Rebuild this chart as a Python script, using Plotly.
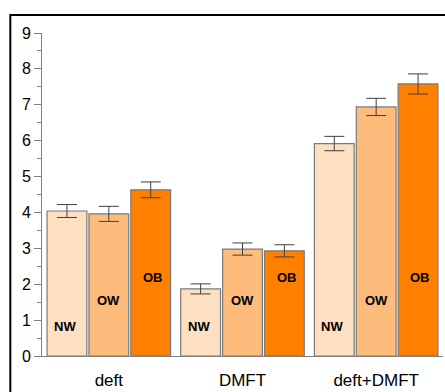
import plotly.graph_objects as go

categories = ["deft", "DMFT", "deft+DMFT"]
groups = ["NW", "OW", "OB"]
values = {
    "NW": [4.04, 1.87, 5.92],
    "OW": [3.96, 2.98, 6.94],
    "OB": [4.63, 2.93, 7.58],
}
errors = {
    "NW": [0.18, 0.14, 0.20],
    "OW": [0.21, 0.17, 0.24],
    "OB": [0.22, 0.17, 0.28],
}
colors = {"NW": "#FDDFC1", "OW": "#FDBB7C", "OB": "#FF7F00"}
label_heights = {"NW": 0.82, "OW": 1.56, "OB": 2.2}
label_shift = {"NW": -44, "OW": 0, "OB": 44}
y_ticks = list(range(0, 10))

fig = go.Figure()
for g in groups:
    fig.add_trace(go.Bar(
        x=categories, y=values[g], name=g,
        marker=dict(color=colors[g], line=dict(color="#7a7a7a", width=1.2)),
        error_y=dict(type="data", array=errors[g], color="#404040",
                     thickness=1, width=10),
    ))
    for c in categories:
        fig.add_annotation(x=c, y=label_heights[g], xref="x", yref="y",
                           text="<b>%s</b>" % g, showarrow=False,
                           xshift=label_shift[g],
                           font=dict(family="Liberation Sans, Arial", size=13, color="black"))

fig.add_shape(type="rect", xref="paper", yref="paper",
              x0=-0.079, x1=1.2, y0=-0.3, y1=1.056,
              line=dict(color="black", width=2), fillcolor="rgba(0,0,0,0)")

fig.update_layout(
    width=445, height=392,
    margin=dict(l=42, r=2, t=33, b=36),
    barmode="group", bargap=0.06, bargroupgap=0.05,
    plot_bgcolor="white", paper_bgcolor="white",
    showlegend=False,
    font=dict(family="Liberation Sans, Arial", color="black"),
)
fig.update_xaxes(
    showline=True, linecolor="#808080", linewidth=1,
    ticks="", tickfont=dict(size=17), showgrid=False,
    ticklabelstandoff=9,
)
fig.update_yaxes(
    range=[0, 9], tickvals=y_ticks, showline=True, linecolor="#808080",
    linewidth=1, ticks="outside", ticklen=7, tickcolor="#808080",
    tickfont=dict(size=16), showgrid=False, zeroline=False,
    minor=dict(dtick=0.5, ticks="outside", ticklen=4, tickcolor="#808080"),
)

fig.write_html("out.html", config={"displayModeBar": False},
               post_script="document.body.style.margin='0';document.body.style.overflow='hidden';")
